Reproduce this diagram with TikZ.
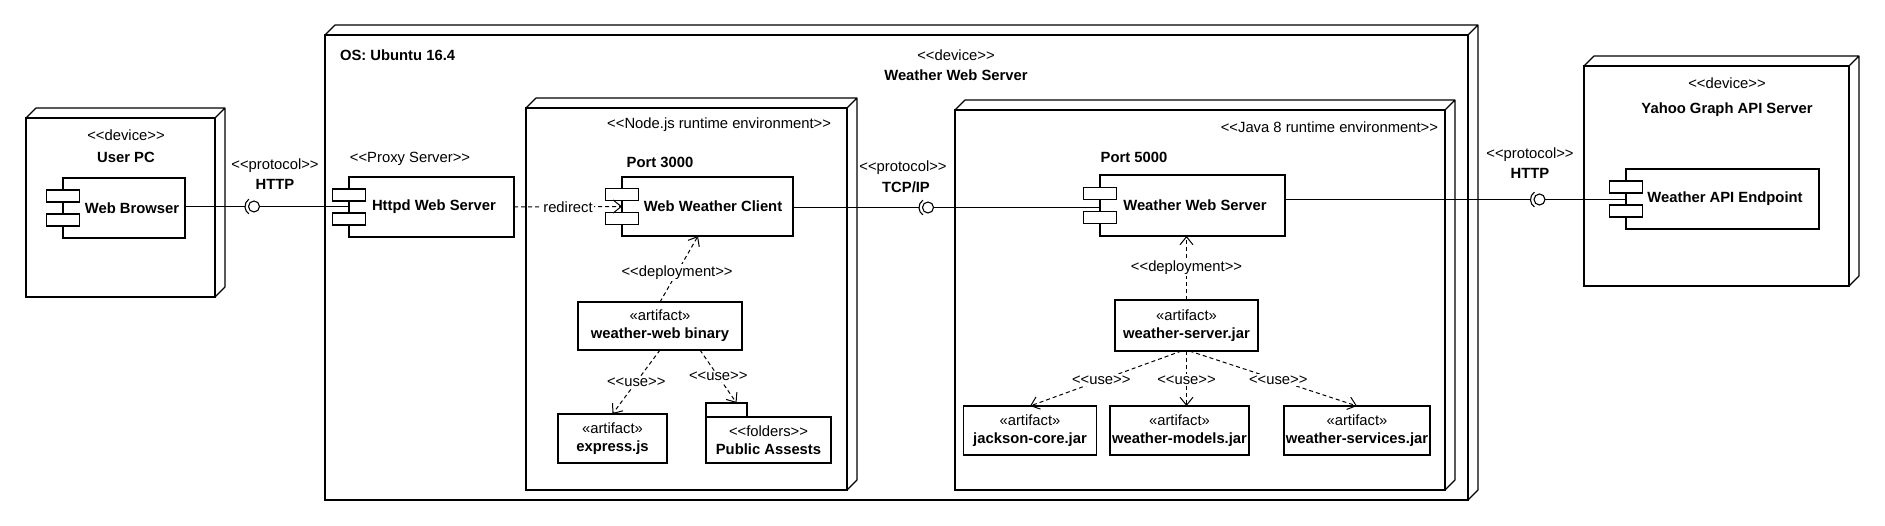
\documentclass[tikz,border=0pt]{standalone}
\usepackage{fontspec}
\setmainfont{Liberation Sans}
\usetikzlibrary{arrows.meta,calc}

\newcommand\stereo[1]{<\kern0pt<#1>\kern0pt>}

\begin{document}
\begin{tikzpicture}[x=1pt, y=-1pt,
    font=\fontsize{14.8}{18}\selectfont,
    every node/.style={inner sep=0pt, outer sep=0pt},
    box/.style={draw, line width=1.1pt, fill=white},
    device/.style={box},
    component/.style={box, font=\fontsize{14.8}{18}\selectfont\bfseries,
      execute at begin node={\hspace*{#1}}},
    component/.default=5pt,
    artifact/.style={box, align=center},
    ball/.style={box, circle, minimum size=11pt},
    wire/.style={line width=1.1pt},
    depends/.style={line width=1pt, dash pattern=on 4pt off 3pt,
      -{Straight Barb[length=8pt,width=13pt]}},
    tag/.style={fill=white, inner sep=1.5pt},
    title/.style={font=\fontsize{14.8}{18}\selectfont\bfseries}]

  \path[use as bounding box, fill=white] (0,0) rectangle (1885,526);

  % devices and execution environments
  \node[device, minimum width=1143pt, minimum height=465pt] (os) at (896.5,267.5) {};
  \node[device, minimum width=189pt, minimum height=179pt] (pc) at (120.5,207.5) {};
  \node[device, minimum width=321pt, minimum height=382pt] (nodejs) at (686.5,299) {};
  \node[device, minimum width=490pt, minimum height=380pt] (java) at (1200,300) {};
  \node[device, minimum width=265pt, minimum height=220pt] (yahoo) at (1716.5,176) {};
  \foreach \d in {pc,os,nodejs,java,yahoo}
    \draw[wire, line join=round] (\d.north west) -- ++(10pt,10pt)
      -- ($(\d.north east)+(10pt,10pt)$) -- ($(\d.south east)+(10pt,10pt)$)
      -- (\d.south east) (\d.north east) -- ++(10pt,10pt);

  \node (pc-stereo) at (126,135) {\stereo{device}};
  \node[title] (pc-name) at (126,157) {User PC};
  \node[title, anchor=west] (os-name) at (340,55) {OS: Ubuntu 16.4};
  \node (wws-stereo) at (956,55) {\stereo{device}};
  \node[title] (wws-name) at (956,75) {Weather Web Server};
  \node[anchor=east] (nodejs-stereo) at (831,125) {\stereo{Node.js runtime environment}};
  \node[anchor=east] (java-stereo) at (1438,127) {\stereo{Java 8 runtime environment}};
  \node (yahoo-stereo) at (1727,83) {\stereo{device}};
  \node[title] (yahoo-name) at (1727,110) {Yahoo Graph API Server};

  % components
  \node[component=16pt, minimum width=122pt, minimum height=60pt] (browser) at (124,208) {Web Browser};
  \node[component, minimum width=165pt, minimum height=60pt] (httpd) at (431.5,207) {Httpd Web Server};
  \node[component=11pt, minimum width=171pt, minimum height=59pt] (client) at (707.5,206.5) {Web Weather Client};
  \node[component, minimum width=185pt, minimum height=61pt] (wserver) at (1192.5,205.5) {Weather Web Server};
  \node[component, minimum width=193pt, minimum height=60pt] (endpoint) at (1722.5,199) {Weather API Endpoint};
  \foreach \c in {browser,httpd,client,wserver,endpoint} {
    \draw[box] ($(\c.west)+(-16.5pt,6pt)$) rectangle ++(33pt,12pt);
    \draw[box] ($(\c.west)+(-16.5pt,-6pt)$) rectangle ++(33pt,-12pt);
  }
  \node (httpd-stereo) at (410,159) {\stereo{Proxy Server}};
  \node[title] (client-port) at (660,162) {Port 3000};
  \node[title] (wserver-port) at (1134,157) {Port 5000};

  % artifacts
  \node[artifact, minimum width=164pt, minimum height=48pt] (wwbinary) at (660,326) {«artifact»\\\textbf{weather-web binary}};
  \node[artifact, minimum width=109pt, minimum height=49pt] (expressjs) at (612.5,438.5) {«artifact»\\\textbf{express.js}};
  \node[box, minimum width=41pt, minimum height=14pt] (assets-tab) at (726.5,410) {};
  \node[artifact, minimum width=125pt, minimum height=46pt] (assets) at (768.5,440) {\stereo{folders}\\\textbf{Public Assests}};
  \node[artifact, minimum width=143pt, minimum height=51pt] (serverjar) at (1186.5,325.5) {«artifact»\\\textbf{weather-server.jar}};
  \node[artifact, minimum width=132.5pt, minimum height=49pt] (jackson) at (1030,430.5) {«artifact»\\\textbf{jackson-core.jar}};
  \node[artifact, minimum width=139pt, minimum height=49pt] (models) at (1179.5,430.5) {«artifact»\\\textbf{weather-models.jar}};
  \node[artifact, minimum width=146pt, minimum height=49pt] (services) at (1357,430.5) {«artifact»\\\textbf{weather-services.jar}};

  % protocols
  \node[ball] (http1) at (254,206.5) {};
  \node[ball] (tcp) at (928,207.5) {};
  \node[ball] (http2) at (1539.5,199.5) {};
  \foreach \i in {http1,tcp,http2}
    \draw[wire] ([shift={(125:9pt)}]\i.center) arc[start angle=125, end angle=235, radius=9pt];
  \node (http1-stereo) at (275,166) {\stereo{protocol}};
  \node[title] (http1-name) at (275,184) {HTTP};
  \node (tcp-stereo) at (903,168) {\stereo{protocol}};
  \node[title] (tcp-name) at (906,187) {TCP/IP};
  \node (http2-stereo) at (1530,155) {\stereo{protocol}};
  \node[title] (http2-name) at (1530,173) {HTTP};

  \draw[wire] (browser.east |- http1) -- ([xshift=-9pt]http1.center);
  \draw[wire] (http1.east) -- (httpd.west |- http1);
  \draw[wire] (client.east |- tcp) -- ([xshift=-9pt]tcp.center);
  \draw[wire] (tcp.east) -- (wserver.west |- tcp);
  \draw[wire] (wserver.east |- http2) -- ([xshift=-9pt]http2.center);
  \draw[wire] (http2.east) -- (endpoint.west |- http2);

  % dependencies
  \draw[depends] (httpd.east) -- node[tag] {redirect} (client.west);
  \draw[depends] (wwbinary.north) -- node[tag, pos=0.45] {\stereo{deployment}} ([xshift=-9.5pt]client.south);
  \draw[depends] (serverjar.north) -- node[tag] {\stereo{deployment}} (serverjar.north |- wserver.south);
  \draw[depends] (wwbinary.south) -- node[tag] {\stereo{use}} (expressjs.north);
  \draw[depends] ([xshift=40pt]wwbinary.south) -- node[tag] {\stereo{use}} ([xshift=10pt]assets-tab.north);
  \draw[depends] ([xshift=-5pt]serverjar.south) -- node[tag, pos=.53] {\stereo{use}} (jackson.north);
  \draw[depends] (serverjar.south) -- node[tag, pos=.53] {\stereo{use}} (serverjar.south |- models.north);
  \draw[depends] ([xshift=3pt]serverjar.south) -- node[tag, pos=.53] {\stereo{use}} (services.north);
\end{tikzpicture}
\end{document}
